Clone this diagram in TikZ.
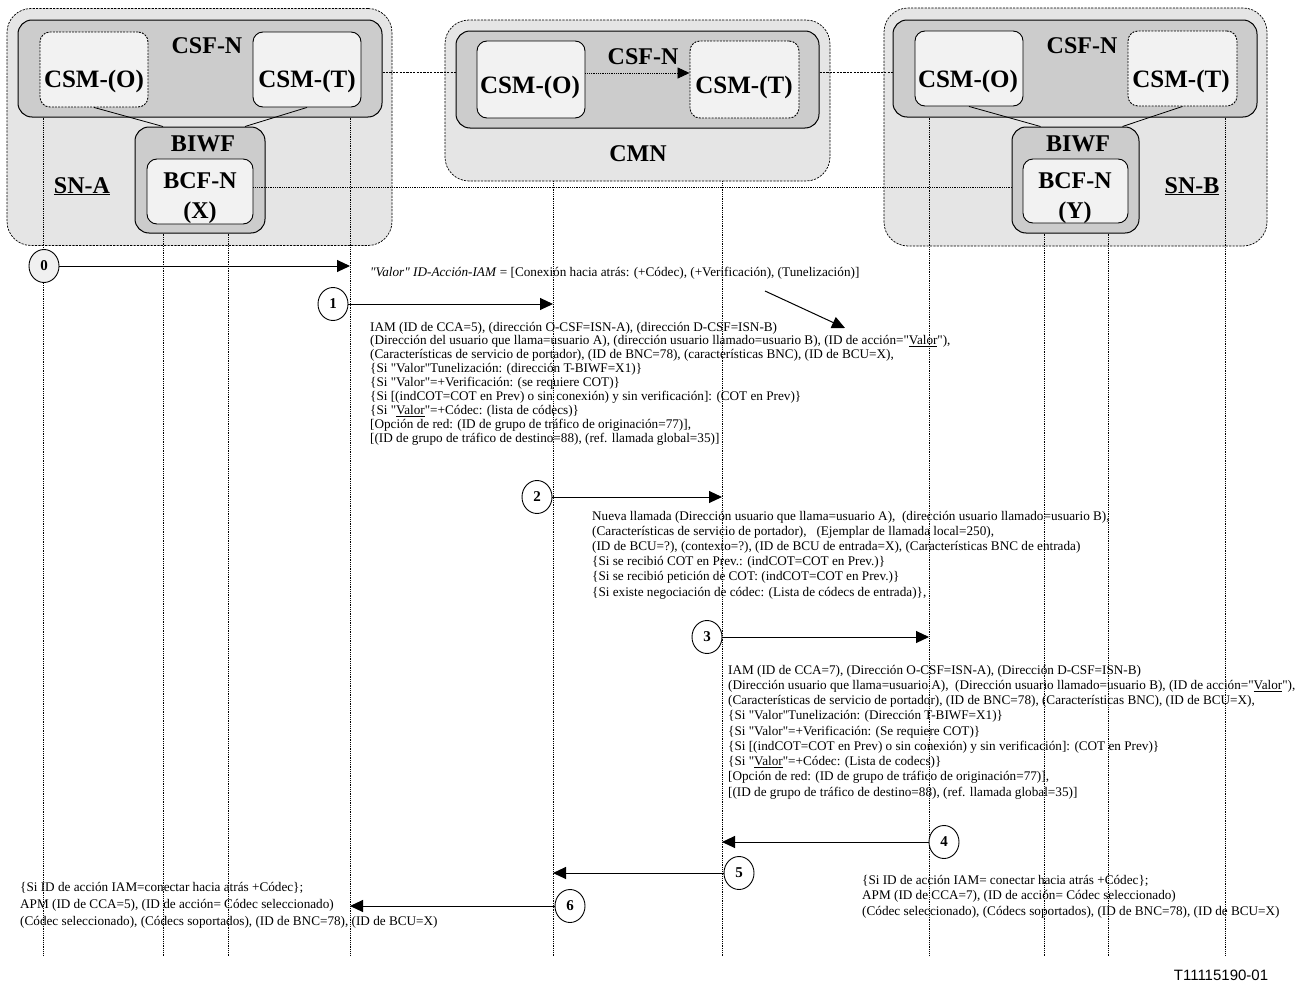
\documentclass[tikz,border=0pt]{standalone}
\usepackage{fontspec}
\setmainfont{Liberation Serif}[Ligatures=TeXOff]
\setsansfont{Liberation Sans}
\usetikzlibrary{arrows.meta,shapes.geometric}
\begin{document}
\begin{tikzpicture}[x=1pt,y=-1pt,
  sysbox/.style={draw, line width=0.7pt, dash pattern=on 2.2pt off 1.2pt, fill=black!10, rounded corners=24pt, inner sep=0pt},
  csfbox/.style={draw, line width=1pt, fill=black!20, rounded corners=14pt, inner sep=0pt},
  csmbox/.style={draw, line width=0.9pt, fill=black!5, rounded corners=10pt, inner sep=0pt},
  csmdash/.style={csmbox, dash pattern=on 2pt off 1.2pt},
  boxlabel/.style={anchor=base, inner sep=0pt, font=\fontsize{24}{26}\selectfont\bfseries},
  csmlabel/.style={anchor=base, inner sep=0pt, font=\fontsize{25}{27}\selectfont\bfseries},
  lifeline/.style={line width=0.7pt, dash pattern=on 0.9pt off 0.9pt},
  link/.style={line width=0.8pt},
  xlink/.style={line width=0.7pt, dash pattern=on 2.2pt off 1.2pt},
  blink/.style={line width=0.7pt, dash pattern=on 0.9pt off 0.9pt},
  msg/.style={line width=1pt, -{Triangle[length=13pt,width=12pt]}},
  stepnum/.style={draw, ellipse, line width=0.9pt, fill=white, minimum width=30pt, minimum height=33pt, inner sep=0pt, font=\fontsize{15}{15}\selectfont\bfseries},
  note/.style={anchor=north west, align=left, inner sep=0pt, font=\fontsize{13.2}{#1}\selectfont},
]
\useasboundingbox (0,0) rectangle (1310,985);

% helper rows
\coordinate (hy72) at (0,72);
\coordinate (hy73) at (0,73);
\coordinate (hy187) at (0,187);

% ---------- SN-A ----------
\node[sysbox, minimum width=385pt, minimum height=237pt] (snA) at (199.5,127) {};
\node[csfbox, minimum width=364pt, minimum height=97pt] (csfA) at (200,68.5) {};
\node[csmdash, minimum width=108pt, minimum height=75pt] (csmoA) at (94,69.5) {};
\node[csmbox, minimum width=108pt, minimum height=75pt] (csmtA) at (307,69.5) {};
\node[csfbox, minimum width=130pt, minimum height=106pt] (biwfA) at (200,180) {};
\node[csmbox, minimum width=106pt, minimum height=65pt] (bcfA) at (200,191.5) {};
\node[boxlabel] (csfAl) at (207,53) {CSF-N};
\node[csmlabel] (csmoAl) at (94,87) {CSM-(O)};
\node[csmlabel] (csmtAl) at (307,87) {CSM-(T)};
\node[boxlabel] (biwfAl) at (203,151) {BIWF};
\node[boxlabel] (bcfAl) at (200,188) {BCF-N};
\node[boxlabel] (bcfAx) at (200,218) {(X)};
\node[boxlabel] (snAl) at (82,193) {\underline{SN-A}};
\draw[link] (csmoA.south) -- ([xshift=-37pt]biwfA.north);
\draw[link] (csmtA.south) -- ([xshift=45pt]biwfA.north);

% ---------- CMN ----------
\node[sysbox, minimum width=385pt, minimum height=161pt] (cmn) at (637.5,100.5) {};
\node[csfbox, minimum width=363pt, minimum height=97pt] (csfC) at (637.5,79.5) {};
\node[csmbox, minimum width=108pt, minimum height=77pt] (csmoC) at (531,79.5) {};
\node[csmdash, minimum width=109pt, minimum height=77pt] (csmtC) at (744.5,79.5) {};
\node[boxlabel] (csfCl) at (643,64) {CSF-N};
\node[csmlabel] (csmoCl) at (530,93) {CSM-(O)};
\node[csmlabel] (csmtCl) at (744,93) {CSM-(T)};
\node[boxlabel] (cmnl) at (638,161) {CMN};
\draw[blink, -{Triangle[length=12pt,width=11pt]}] (csmoC.east |- hy73) -- (csmtC.west |- hy73);

% ---------- SN-B ----------
\node[sysbox, minimum width=383pt, minimum height=238pt] (snB) at (1075.5,127) {};
\node[csfbox, minimum width=364pt, minimum height=97pt] (csfB) at (1075,68.5) {};
\node[csmbox, minimum width=108pt, minimum height=75pt] (csmoB) at (969,68.5) {};
\node[csmdash, minimum width=109pt, minimum height=75pt] (csmtB) at (1182.5,68.5) {};
\node[csfbox, minimum width=127pt, minimum height=106pt] (biwfB) at (1075.5,180) {};
\node[csmbox, minimum width=105pt, minimum height=64pt] (bcfB) at (1075.5,191) {};
\node[boxlabel] (csfBl) at (1082,53) {CSF-N};
\node[csmlabel] (csmoBl) at (968,87) {CSM-(O)};
\node[csmlabel] (csmtBl) at (1181,87) {CSM-(T)};
\node[boxlabel] (biwfBl) at (1078,151) {BIWF};
\node[boxlabel] (bcfBl) at (1075,188) {BCF-N};
\node[boxlabel] (bcfBy) at (1075,218) {(Y)};
\node[boxlabel] (snBl) at (1192,193) {\underline{SN-B}};
\draw[link] (csmoB.south) -- ([xshift=-35pt]biwfB.north);
\draw[link] (csmtB.south) -- ([xshift=47pt]biwfB.north);

% ---------- links between the networks ----------
\draw[xlink] (csfA.east |- hy72) -- (csfC.west |- hy72);
\draw[xlink] (csfC.east |- hy72) -- (csfB.west |- hy72);
\draw[blink] (bcfA.east |- hy187) -- (biwfB.west |- hy187);

% ---------- lifelines ----------
\coordinate (l1) at (43,956);
\coordinate (l2) at (163,956);
\coordinate (l3) at (228,956);
\coordinate (l4) at (350,956);
\coordinate (l5) at (553,956);
\coordinate (l6) at (722,956);
\coordinate (l7) at (929,956);
\coordinate (l8) at (1044,956);
\coordinate (l9) at (1108,956);
\coordinate (l10) at (1225,956);
\draw[lifeline] (csfA.south -| l1) -- (l1);
\draw[lifeline] (biwfA.south -| l2) -- (l2);
\draw[lifeline] (biwfA.south -| l3) -- (l3);
\draw[lifeline] (csfA.south -| l4) -- (l4);
\draw[lifeline] (cmn.south -| l5) -- (l5);
\draw[lifeline] (cmn.south -| l6) -- (l6);
\draw[lifeline] (csfB.south -| l7) -- (l7);
\draw[lifeline] (biwfB.south -| l8) -- (l8);
\draw[lifeline] (biwfB.south -| l9) -- (l9);
\draw[lifeline] (csfB.south -| l10) -- (l10);

% ---------- messages ----------
\node[stepnum, fill=black!6] (s0) at (44,266) {0};
\coordinate (e0) at (350,266);
\draw[msg] (s0) -- (e0);
\node[anchor=base west, inner sep=0pt, font=\fontsize{13.2}{15}\selectfont] (t0) at (370,276)
  {\textit{"Valor" ID-Acción-IAM} = [Conexión hacia atrás: (+Códec), (+Verificación), (Tunelización)]};
\coordinate (d0) at (765,291);
\coordinate (d1) at (845,328);
\draw[msg] (d0) -- (d1);

\node[stepnum] (s1) at (333,304) {1};
\coordinate (e1) at (553,304);
\draw[msg] (s1) -- (e1);
\node[note=13.9] (t1) at (370,321.7) {%
IAM (ID de CCA=5), (dirección O-CSF=ISN-A), (dirección D-CSF=ISN-B)\\
(Dirección del usuario que llama=usuario A), (dirección usuario llamado=usuario B), (ID de acción="\underline{Valor}"),\\
(Características de servicio de portador), (ID de BNC=78), (características BNC), (ID de BCU=X),\\
\{Si "Valor"Tunelización: (dirección T-BIWF=X1)\}\\
\{Si "Valor"=+Verificación: (se requiere COT)\}\\
\{Si [(indCOT=COT en Prev) o sin conexión) y sin verificación]: (COT en Prev)\}\\
\{Si "\underline{Valor}"=+Códec: (lista de códecs)\}\\\relax
[Opción de red: (ID de grupo de tráfico de originación=77)],\\\relax
[(ID de grupo de tráfico de destino=88), (ref. llamada global=35)]};

\node[stepnum] (s2) at (537,497) {2};
\coordinate (e2) at (722,497);
\draw[msg] (s2) -- (e2);
\node[note=15.2] (t2) at (592,510.7) {%
Nueva llamada (Dirección usuario que llama=usuario A),\ \ (dirección usuario llamado=usuario B),\\
(Características de servicio de portador),\ \ \ (Ejemplar de llamada local=250),\\
(ID de BCU=?), (contexto=?), (ID de BCU de entrada=X), (Características BNC de entrada)\\
\{Si se recibió COT en Prev.: (indCOT=COT en Prev.)\}\\
\{Si se recibió petición de COT: (indCOT=COT en Prev.)\}\\
\{Si existe negociación de códec: (Lista de códecs de entrada)\},};

\node[stepnum] (s3) at (707,637) {3};
\coordinate (e3) at (929,637);
\draw[msg] (s3) -- (e3);
\node[note=15.25] (t3) at (728,664.7) {%
IAM (ID de CCA=7), (Dirección O-CSF=ISN-A), (Dirección D-CSF=ISN-B)\\
(Dirección usuario que llama=usuario A),\ \ (Dirección usuario llamado=usuario B), (ID de acción="\underline{Valor}"),\\
(Características de servicio de portador), (ID de BNC=78), (Características BNC), (ID de BCU=X),\\
\{Si "Valor"Tunelización: (Dirección T-BIWF=X1)\}\\
\{Si "Valor"=+Verificación: (Se requiere COT)\}\\
\{Si [(indCOT=COT en Prev) o sin conexión) y sin verificación]: (COT en Prev)\}\\
\{Si "\underline{Valor}"=+Códec: (Lista de codecs)\}\\\relax
[Opción de red: (ID de grupo de tráfico de originación=77)],\\\relax
[(ID de grupo de tráfico de destino=88), (ref. llamada global=35)]};

\node[stepnum] (s4) at (944,842) {4};
\coordinate (e4) at (722,842);
\draw[msg] (s4) -- (e4);
\node[note=15.5] (t4) at (862,874.7) {%
\{Si ID de acción IAM= conectar hacia atrás +Códec\};\\
APM (ID de CCA=7), (ID de acción= Códec seleccionado)\\
(Códec seleccionado), (Códecs soportados), (ID de BNC=78), (ID de BCU=X)};

\node[stepnum] (s5) at (739,873) {5};
\coordinate (e5) at (553,873);
\draw[msg] (s5) -- (e5);

\node[stepnum] (s6) at (570,906) {6};
\coordinate (e6) at (350,906);
\draw[msg] (s6) -- (e6);
\node[note=17] (t6) at (20,881.7) {%
\{Si ID de acción IAM=conectar hacia atrás +Códec\};\\
APM (ID de CCA=5), (ID de acción= Códec seleccionado)\\
(Códec seleccionado), (Códecs soportados), (ID de BNC=78), (ID de BCU=X)};

\node[inner sep=0pt, font=\sffamily\fontsize{15}{15}\selectfont] (fig) at (1221,975) {T11115190-01};
\end{tikzpicture}
\end{document}
